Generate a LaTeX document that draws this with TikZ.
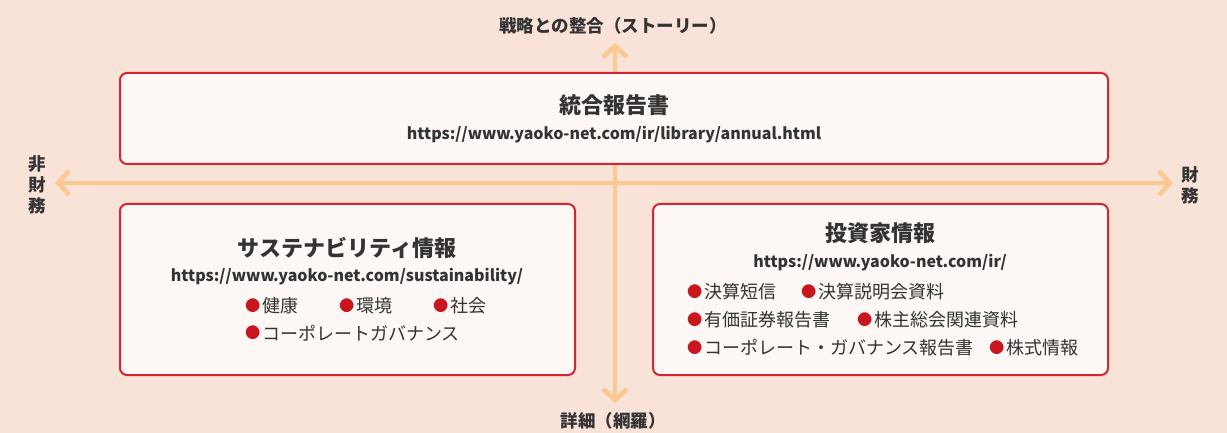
\documentclass[tikz,border=0pt]{standalone}
\usepackage{fontspec}
\setmainfont{Noto Sans CJK JP}
\usetikzlibrary{arrows.meta}
\definecolor{bg}{RGB}{249,226,216}
\definecolor{boxfill}{RGB}{253,248,245}
\definecolor{frame}{RGB}{212,38,48}
\definecolor{axis}{RGB}{253,200,143}
\definecolor{ink}{RGB}{51,51,51}
\definecolor{dot}{RGB}{200,22,30}
\newcommand{\bul}{\raisebox{0.07em}{\textcolor{dot}{\scalebox{0.85}{●}}}\hspace{1.5pt}}

\begin{document}
\begin{tikzpicture}[x=1pt,y=-1pt,text=ink,
  panel/.style={draw=frame,fill=boxfill,line width=2pt,rounded corners=7pt,inner sep=0pt},
  axisline/.style={draw=axis,line width=4.5pt,{Straight Barb[length=11pt,width=24pt]}-{Straight Barb[length=11pt,width=24pt]}},
  ttl/.style={font=\fontsize{22}{26}\selectfont\bfseries},
  url/.style={font=\fontsize{16}{19}\selectfont\bfseries},
  item/.style={font=\fontsize{18}{20}\selectfont,anchor=west,inner sep=0pt},
  lbl/.style={font=\fontsize{17.5}{21}\selectfont\bfseries,align=center}]
\fill[bg] (0,0) rectangle (1227,433);
\useasboundingbox (0,0) rectangle (1227,433);

%%% axes
\coordinate (north) at (615,43);
\coordinate (south) at (615,403);
\coordinate (west) at (55,183);
\coordinate (east) at (1173,183);
\draw[axisline] (south) -- (north);
\draw[axisline] (west) -- (east);

%%% axis labels
\node[lbl] (story) at (613,26) {戦略との整合（ストーリー）};
\node[lbl] (detail) at (613,421) {詳細（網羅）};
\node[lbl] (nonfin) at (37,185) {非\\財\\務};
\node[lbl] (fin) at (1190,185) {財\\務};

%%% integrated report
\node[panel,minimum width=988,minimum height=91] (report) at (614,118.5) {};
\node[ttl] (reporttitle) at (614,105) {統合報告書};
\node[url] (reporturl) at (614,135) {https://www.yaoko-net.com/ir/library/annual.html};

%%% sustainability
\node[panel,minimum width=455,minimum height=171] (sustain) at (347.5,289.5) {};
\node[ttl] (sustaintitle) at (347,248) {サステナビリティ情報};
\node[url] (sustainurl) at (347,277) {https://www.yaoko-net.com/sustainability/};
\node[item] (health) at (245,306) {\bul 健康};
\node[item] (env) at (339,306) {\bul 環境};
\node[item] (social) at (433,306) {\bul 社会};
\node[item] (gov) at (245,333) {\bul コーポレートガバナンス};

%%% investor relations
\node[panel,minimum width=455,minimum height=171] (ir) at (880.5,289.5) {};
\node[ttl] (irtitle) at (880,233) {投資家情報};
\node[url] (irurl) at (880,263) {https://www.yaoko-net.com/ir/};
\node[item] (tanshin) at (687,292) {\bul 決算短信};
\node[item] (setsumei) at (801,292) {\bul 決算説明会資料};
\node[item] (yuho) at (687,320) {\bul 有価証券報告書};
\node[item] (soukai) at (857,320) {\bul 株主総会関連資料};
\node[item] (govreport) at (687,348) {\bul コーポレート・ガバナンス報告書};
\node[item] (stock) at (989,348) {\bul 株式情報};
\end{tikzpicture}
\end{document}
